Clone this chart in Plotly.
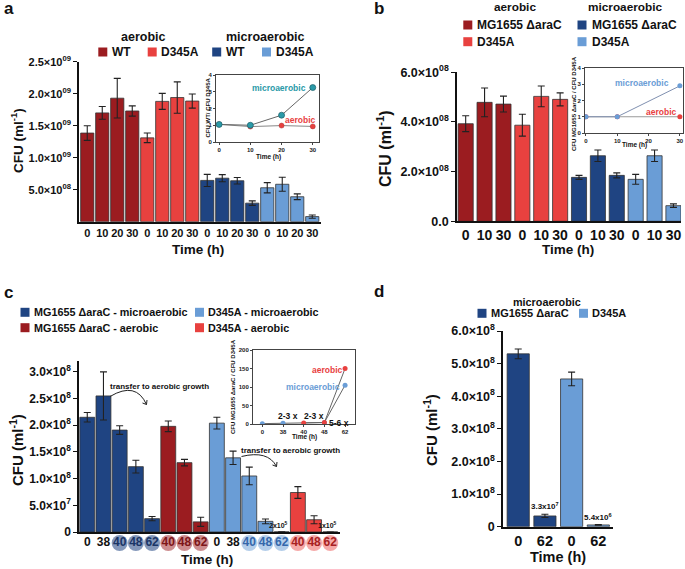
import plotly.graph_objects as go

W, H = 685, 569
FONT = "Liberation Sans"

DARK_RED = "#9b1c20"
RED = "#e8413f"
NAVY = "#1f4482"
LIGHT_BLUE = "#6a9dd6"
TEAL = "#2a9aa8"

# ---------------- data: panel a ----------------
a_times = ["0", "10", "20", "30"]
a_wt_aer = [1.385e9, 1.70e9, 1.93e9, 1.73e9]
a_wt_aer_err = [0.115e9, 0.10e9, 0.31e9, 0.08e9]
a_d_aer = [1.31e9, 1.88e9, 1.94e9, 1.885e9]
a_d_aer_err = [0.075e9, 0.125e9, 0.245e9, 0.11e9]
a_wt_mic = [0.645e9, 0.68e9, 0.64e9, 0.29e9]
a_wt_mic_err = [0.095e9, 0.055e9, 0.05e9, 0.035e9]
a_d_mic = [0.53e9, 0.585e9, 0.39e9, 0.08e9]
a_d_mic_err = [0.08e9, 0.11e9, 0.045e9, 0.025e9]
a_inset_t = [0, 10, 20, 30]
a_ratio_mic = [1.05, 1.0, 1.6, 3.25]
a_ratio_aer = [1.05, 0.92, 0.98, 0.93]
a_yticks = [5e8, 1e9, 1.5e9, 2e9, 2.5e9]
a_yticktext = ["5.0×10<sup>08</sup>", "1.0×10<sup>09</sup>", "1.5×10<sup>09</sup>",
               "2.0×10<sup>09</sup>", "2.5×10<sup>09</sup>"]

# ---------------- data: panel b ----------------
b_times = ["0", "10", "30"]
b_mg_aer = [3.93e8, 4.79e8, 4.72e8]
b_mg_aer_err = [0.32e8, 0.58e8, 0.32e8]
b_d_aer = [3.87e8, 5.03e8, 4.91e8]
b_d_aer_err = [0.44e8, 0.42e8, 0.26e8]
b_mg_mic = [1.77e8, 2.64e8, 1.85e8]
b_mg_mic_err = [0.08e8, 0.23e8, 0.1e8]
b_d_mic = [1.69e8, 2.64e8, 0.63e8]
b_d_mic_err = [0.2e8, 0.23e8, 0.07e8]
b_inset_t = [0, 10, 30]
b_ratio_mic = [1.0, 1.0, 2.9]
b_ratio_aer = [1.0, 1.0, 1.0]
b_yticks = [0, 2e8, 4e8, 6e8]
b_yticktext = ["0.0", "2.0×10<sup>08</sup>", "4.0×10<sup>08</sup>", "6.0×10<sup>08</sup>"]

# ---------------- data: panel c ----------------
c_mic_times = ["0", "38", "40", "48", "62"]
c_aer_times = ["40", "48", "62"]
c_mg_mic = [2.15e8, 2.55e8, 1.91e8, 1.225e8, 0.25e8]
c_mg_mic_err = [0.09e8, 0.45e8, 0.08e8, 0.12e8, 0.04e8]
c_mg_aer = [1.98e8, 1.30e8, 0.19e8]
c_mg_aer_err = [0.1e8, 0.06e8, 0.085e8]
c_d_mic = [2.04e8, 1.39e8, 1.05e8, 0.2e8, 2e5]
c_d_mic_err = [0.11e8, 0.125e8, 0.165e8, 0.045e8, 0]
c_d_aer = [0.74e8, 0.23e8, 1e5]
c_d_aer_err = [0.11e8, 0.075e8, 0]
c_small_labels = {"D345A-mic-62": "2x10<sup>5</sup>", "D345A-aer-62": "1x10<sup>5</sup>"}
c_inset_cats = ["0", "38", "40", "48", "62"]
c_ratio_mic_x = ["0", "38", "48", "62"]
c_ratio_mic = [1, 2, 4, 105]
c_ratio_aer_x = ["40", "48", "62"]
c_ratio_aer = [3, 4, 150]
c_yticks = [0, 5e7, 1e8, 1.5e8, 2e8, 2.5e8, 3e8]
c_yticktext = ["0", "5.0×10<sup>7</sup>", "1.0×10<sup>8</sup>", "1.5×10<sup>8</sup>",
               "2.0×10<sup>8</sup>", "2.5×10<sup>8</sup>", "3.0×10<sup>8</sup>"]

# ---------------- data: panel d ----------------
d_times = ["0", "62"]
d_mg = [5.3e8, 0.33e8]
d_mg_err = [0.15e8, 0.05e8]
d_d = [4.53e8, 0.054e8]
d_d_err = [0.21e8, 0.01e8]
d_labels = {"MG-62": "3.3x10<sup>7</sup>", "D-62": "5.4x10<sup>6</sup>"}
d_yticks = [0, 1e8, 2e8, 3e8, 4e8, 5e8, 6e8]
d_yticktext = ["0"] + [f"{v}.0×10<sup>8</sup>" for v in range(1, 7)]


def fx(px):
    return px / W


def fy(py):
    return 1 - py / H


fig = go.Figure()


def add_bars(keys, vals, errs, color, xa, ya, width):
    fig.add_trace(go.Bar(
        x=keys, y=vals,
        error_y=dict(type="data", array=errs, color="#222", thickness=1.1, width=3.5),
        marker=dict(color=color, line=dict(color="#333", width=0.8)),
        width=width, xaxis=xa, yaxis=ya, showlegend=False))


# ---------- panel a ----------
a_groups = [("aer-wt", a_wt_aer, a_wt_aer_err, DARK_RED),
            ("aer-d", a_d_aer, a_d_aer_err, RED),
            ("mic-wt", a_wt_mic, a_wt_mic_err, NAVY),
            ("mic-d", a_d_mic, a_d_mic_err, LIGHT_BLUE)]
a_keys_all, a_text_all = [], []
for g, vals, errs, col in a_groups:
    keys = [f"{g}-{t}" for t in a_times]
    a_keys_all += keys
    a_text_all += a_times
    add_bars(keys, vals, errs, col, "x", "y", 0.88)

fig.add_trace(go.Scatter(x=a_inset_t, y=a_ratio_aer, mode="lines+markers",
                         line=dict(color="#888", width=1),
                         marker=dict(color=RED, size=5, line=dict(color="#a33", width=0.5)),
                         xaxis="x2", yaxis="y2", showlegend=False))
fig.add_trace(go.Scatter(x=a_inset_t, y=a_ratio_mic, mode="lines+markers",
                         line=dict(color="#666", width=1),
                         marker=dict(color=TEAL, size=6, line=dict(color="#1c5f68", width=0.7)),
                         xaxis="x2", yaxis="y2", showlegend=False))

# ---------- panel b ----------
b_groups = [("aer-mg", b_mg_aer, b_mg_aer_err, DARK_RED),
            ("aer-d", b_d_aer, b_d_aer_err, RED),
            ("mic-mg", b_mg_mic, b_mg_mic_err, NAVY),
            ("mic-d", b_d_mic, b_d_mic_err, LIGHT_BLUE)]
b_keys_all, b_text_all = [], []
for g, vals, errs, col in b_groups:
    keys = [f"{g}-{t}" for t in b_times]
    b_keys_all += keys
    b_text_all += b_times
    add_bars(keys, vals, errs, col, "x3", "y3", 0.8)

fig.add_trace(go.Scatter(x=b_inset_t, y=b_ratio_aer, mode="lines+markers",
                         line=dict(color="#9a9a9a", width=1),
                         marker=dict(color=RED, size=5),
                         xaxis="x4", yaxis="y4", showlegend=False))
fig.add_trace(go.Scatter(x=b_inset_t, y=b_ratio_mic, mode="lines+markers",
                         line=dict(color="#8090b0", width=1),
                         marker=dict(color=LIGHT_BLUE, size=5),
                         xaxis="x4", yaxis="y4", showlegend=False))

# ---------- panel c ----------
c_groups = [("MG-mic", c_mic_times, c_mg_mic, c_mg_mic_err, NAVY),
            ("MG-aer", c_aer_times, c_mg_aer, c_mg_aer_err, DARK_RED),
            ("D345A-mic", c_mic_times, c_d_mic, c_d_mic_err, LIGHT_BLUE),
            ("D345A-aer", c_aer_times, c_d_aer, c_d_aer_err, RED)]
circle_style = {"MG-mic": ("rgba(31,68,130,0.55)", "#1a3566"),
                "MG-aer": ("rgba(155,28,32,0.5)", "#7d1518"),
                "D345A-mic": ("rgba(106,157,214,0.5)", "#3567ab"),
                "D345A-aer": ("rgba(232,65,63,0.45)", "#a81f22")}
c_keys_all, c_label_text, c_label_col, c_circ_col = [], [], [], []
for g, times, vals, errs, col in c_groups:
    keys = [f"{g}-{t}" for t in times]
    c_keys_all += keys
    add_bars(keys, vals, errs, col, "x5", "y5", 0.92)
    for t in times:
        c_label_text.append(t)
        if t in ("40", "48", "62"):
            ccol, tcol = circle_style[g]
            c_circ_col.append(ccol)
            c_label_col.append(tcol)
        else:
            c_circ_col.append("rgba(0,0,0,0)")
            c_label_col.append("#111")

# tick-label row for panel c (circles with labels on a thin helper axis)
fig.add_trace(go.Scatter(x=c_keys_all, y=[0] * len(c_keys_all), mode="markers+text",
                         text=c_label_text, textposition="middle center",
                         textfont=dict(family=FONT, size=12, color=c_label_col, weight="bold"),
                         marker=dict(color=c_circ_col, size=16, line=dict(width=0)),
                         cliponaxis=False, xaxis="x8", yaxis="y8", showlegend=False,
                         hoverinfo="skip"))

fig.add_trace(go.Scatter(x=c_ratio_mic_x, y=c_ratio_mic, mode="lines+markers",
                         line=dict(color="#666", width=1),
                         marker=dict(color=LIGHT_BLUE, size=5),
                         xaxis="x6", yaxis="y6", showlegend=False))
fig.add_trace(go.Scatter(x=c_ratio_aer_x, y=c_ratio_aer, mode="lines+markers",
                         line=dict(color="#666", width=1),
                         marker=dict(color=RED, size=5),
                         xaxis="x6", yaxis="y6", showlegend=False))

# ---------- panel d ----------
d_keys_mg = [f"MG-{t}" for t in d_times]
d_keys_d = [f"D-{t}" for t in d_times]
add_bars(d_keys_mg, d_mg, d_mg_err, NAVY, "x7", "y7", 0.83)
add_bars(d_keys_d, d_d, d_d_err, LIGHT_BLUE, "x7", "y7", 0.83)


# ---------- axes ----------
def main_x(domain, rng, keys, texts, size, anchor, show=True):
    return dict(domain=domain, range=rng, type="category", categoryorder="array",
                categoryarray=keys, tickvals=keys, ticktext=texts, showline=True,
                linecolor="#111", linewidth=1.5, ticks="", showgrid=False, zeroline=False,
                tickangle=0, automargin=False, anchor=anchor, showticklabels=show,
                tickfont=dict(family=FONT, size=size, color="#111", weight="bold"))


def main_y(domain, rng, tv, tt, size, anchor):
    return dict(domain=domain, range=rng, tickvals=tv, ticktext=tt, showline=True,
                linecolor="#111", linewidth=1.5, ticks="outside", ticklen=4, tickwidth=1.3,
                tickcolor="#111", showgrid=False, zeroline=False, automargin=False,
                anchor=anchor,
                tickfont=dict(family=FONT, size=size, color="#111", weight="bold"))


def inset_ax(domain, rng, anchor, **kw):
    d = dict(domain=domain, range=rng, anchor=anchor, showline=True, mirror=True,
             linecolor="#444", linewidth=1, ticks="outside", ticklen=2, tickcolor="#444",
             showgrid=False, zeroline=False, automargin=False, tickangle=0,
             tickfont=dict(family=FONT, size=6, color="#222", weight="bold"))
    d.update(kw)
    return d


layout = dict(
    width=W, height=H, margin=dict(l=0, r=0, t=0, b=0, autoexpand=False),
    paper_bgcolor="white", plot_bgcolor="rgba(0,0,0,0)",
    barmode="overlay", font=dict(family=FONT, weight="bold", color="#111"),
    showlegend=False,
    xaxis=main_x([fx(79), fx(320.5)], [-0.55, 15.55], a_keys_all, a_text_all, 11, "y"),
    yaxis=main_y([fy(221.7), fy(61.7)], [0, 2.5e9], a_yticks, a_yticktext, 11, "x"),
    xaxis2=inset_ax([fx(216), fx(319)], [-1, 32], "y2", tickvals=[0, 10, 20, 30]),
    yaxis2=inset_ax([fy(142), fy(75)], [0, 4], "x2", tickvals=[0, 1, 2, 3, 4]),
    xaxis3=main_x([fx(457), fx(681)], [-0.46, 11.4], b_keys_all, b_text_all, 14, "y3"),
    yaxis3=main_y([fy(221.3), fy(72.3)], [0, 6e8], b_yticks, b_yticktext, 12.5, "x3"),
    xaxis4=inset_ax([fx(585), fx(683)], [-0.3, 31], "y4", tickvals=[0, 10, 20, 30]),
    yaxis4=inset_ax([fy(133), fy(68)], [0, 4], "x4", tickvals=[0, 1, 2, 3, 4]),
    xaxis5=main_x([fx(79), fx(340)], [-0.51, 15.6], c_keys_all, c_label_text, 12, "y5", show=False),
    yaxis5=main_y([fy(532), fy(360.7)], [0, 3.21e8], c_yticks, c_yticktext, 12, "x5"),
    xaxis6=inset_ax([fx(253), fx(355)], [-0.45, 4.48], "y6", type="category",
                    categoryorder="array", categoryarray=c_inset_cats),
    yaxis6=inset_ax([fy(424), fy(350)], [0, 200], "x6", tickvals=[0, 50, 100, 150, 200]),
    xaxis7=main_x([fx(503), fx(613)], [-0.57, 3.55], d_keys_mg + d_keys_d, d_times + d_times, 14.5, "y7"),
    yaxis7=main_y([fy(526.7), fy(331)], [0, 6e8], d_yticks, d_yticktext, 12.5, "x7"),
    xaxis8=dict(domain=[fx(79), fx(340)], range=[-0.51, 15.6], type="category",
                categoryorder="array", categoryarray=c_keys_all, visible=False,
                anchor="y8", automargin=False),
    yaxis8=dict(domain=[fy(553), fy(533)], range=[-1, 1], visible=False,
                anchor="x8", automargin=False),
)
fig.update_layout(**layout)

# ---------- annotations ----------
anns = []


def ann(text, px, py, size, color="#111", xanchor="center", angle=0, yanchor="middle"):
    anns.append(dict(text=text, x=fx(px), y=fy(py), xref="paper", yref="paper",
                     xanchor=xanchor, yanchor=yanchor, showarrow=False, textangle=angle,
                     font=dict(family=FONT, size=size, color=color, weight="bold")))


# panel letters
ann("a", 8.5, 9, 17)
ann("b", 379, 8, 17)
ann("c", 8.5, 293, 17)
ann("d", 379, 291, 17)

# axis titles
ylab = "CFU (ml<sup>-1</sup>)"
ann(ylab, 17, 141, 13.5, angle=-90)
ann("Time (h)", 198, 250, 13.5)
ann(ylab, 384, 149, 16, angle=-90)
ann("Time (h)", 568, 249, 13.5)
ann(ylab, 16, 450, 15, angle=-90)
ann("Time (h)", 207, 559, 13.5)
ann(ylab, 430, 430, 15, angle=-90)
ann("Time (h)", 558, 557, 14.5)

# inset titles
ann("Time (h)", 268, 157, 6.5)
ann("CFU WT/ CFU D345A", 207.5, 108, 6, angle=-90)
ann("Time (h)", 634, 145, 6.5)
ann("CFU MG1655 ΔaraC / CFU D345A", 574, 104, 6, angle=-90)
ann("Time (h)", 304, 437, 6.5)
ann("CFU MG1655 ΔaraC / CFU D345A", 233, 387, 6, angle=-90)

# inset labels
ann("microaerobic", 278.7, 88, 8.5, TEAL)
ann("aerobic", 300.5, 120, 8.5, RED)
ann("microaerobic", 641.7, 82.7, 8.5, LIGHT_BLUE)
ann("aerobic", 661, 112, 8.5, RED)
ann("aerobic", 327.5, 370, 8.5, RED)
ann("microaerobic", 312.5, 386.7, 8.5, LIGHT_BLUE)
ann("2-3 x", 288, 416, 8.5)
ann("2-3 x", 314, 416, 8.5)
ann("5-6 x", 339, 423, 8.5)

# legends
shapes = []


def swatch(px, py, color, s=9):
    shapes.append(dict(type="rect", xref="paper", yref="paper",
                       x0=fx(px - s / 2), x1=fx(px + s / 2), y0=fy(py + s / 2), y1=fy(py - s / 2),
                       fillcolor=color, line=dict(width=0)))


# panel a legend
ann("aerobic", 143, 37, 12.5)
ann("microaerobic", 265, 37, 12.5)
for sx, col, txt in [(102.8, DARK_RED, "WT"), (152.2, RED, "D345A"),
                     (216.7, NAVY, "WT"), (266.5, LIGHT_BLUE, "D345A")]:
    swatch(sx, 52, col)
    ann(txt, sx + 7, 52, 12, xanchor="left")

# panel b legend
ann("aerobic", 515, 7.5, 11.8)
ann("microaerobic", 625, 7.5, 11.8)
for sx, sy, col, txt in [(467.8, 25, DARK_RED, "MG1655 ΔaraC"), (467.8, 41.7, RED, "D345A"),
                         (582, 25, NAVY, "MG1655 ΔaraC"), (582, 41.7, LIGHT_BLUE, "D345A")]:
    swatch(sx, sy, col)
    ann(txt, sx + 7.5, sy, 12, xanchor="left")

# panel c legend
for sx, sy, col, txt in [(25, 312.3, NAVY, "MG1655 ΔaraC - microaerobic"),
                         (25, 327.7, DARK_RED, "MG1655 ΔaraC - aerobic"),
                         (199.5, 312.3, LIGHT_BLUE, "D345A - microaerobic"),
                         (199.5, 327.7, RED, "D345A - aerobic")]:
    swatch(sx, sy, col)
    ann(txt, sx + 6.5, sy, 10.8, xanchor="left")

# panel d legend
ann("microaerobic", 546.7, 301.7, 10.8)
for sx, col, txt in [(482, NAVY, "MG1655 ΔaraC"), (583.5, LIGHT_BLUE, "D345A")]:
    swatch(sx, 313.3, col)
    ann(txt, sx + 6.5, 313.3, 11, xanchor="left")

# panel c transfer arrows
ann("transfer to aerobic growth", 159.2, 386.5, 8)
ann("transfer to aerobic growth", 290.3, 450, 8)


def curve(p0, c, p1):
    return dict(type="path", xref="paper", yref="paper",
                path=f"M {fx(p0[0])},{fy(p0[1])} Q {fx(c[0])},{fy(c[1])} {fx(p1[0])},{fy(p1[1])}",
                line=dict(color="#222", width=1))


def head(p, d1, d2):
    return dict(type="path", xref="paper", yref="paper",
                path=f"M {fx(p[0]+d1[0])},{fy(p[1]+d1[1])} L {fx(p[0])},{fy(p[1])} L {fx(p[0]+d2[0])},{fy(p[1]+d2[1])}",
                line=dict(color="#222", width=1))


shapes.append(curve((110, 396.5), (136, 381), (146.5, 404.5)))
shapes.append(head((146.5, 404.5), (-4, -1.5), (0.5, -4.5)))
shapes.append(curve((241.5, 456.5), (268, 450), (276.5, 466.5)))
shapes.append(head((276.5, 466.5), (-4, -1.5), (0.5, -4.5)))

# small value labels (data-anchored)
for k, txt in c_small_labels.items():
    anns.append(dict(text=txt, x=k, y=0, xref="x5", yref="y5", xanchor="center",
                     yanchor="bottom", yshift=1, xshift=-3, showarrow=False,
                     font=dict(family=FONT, size=7, color="#111", weight="bold")))
d_vals = {"MG-62": (d_mg[1], d_mg_err[1]), "D-62": (d_d[1], d_d_err[1])}
for k, txt in d_labels.items():
    v, e = d_vals[k]
    anns.append(dict(text=txt, x=k, y=v + e, xref="x7", yref="y7", xanchor="center",
                     yanchor="bottom", yshift=1, showarrow=False,
                     font=dict(family=FONT, size=8, color="#111", weight="bold")))

fig.update_layout(annotations=anns, shapes=shapes)
fig.write_html("out.html",
               config={"displayModeBar": False},
               post_script="document.body.style.margin='0px';"
                           "document.body.style.overflow='hidden';")
